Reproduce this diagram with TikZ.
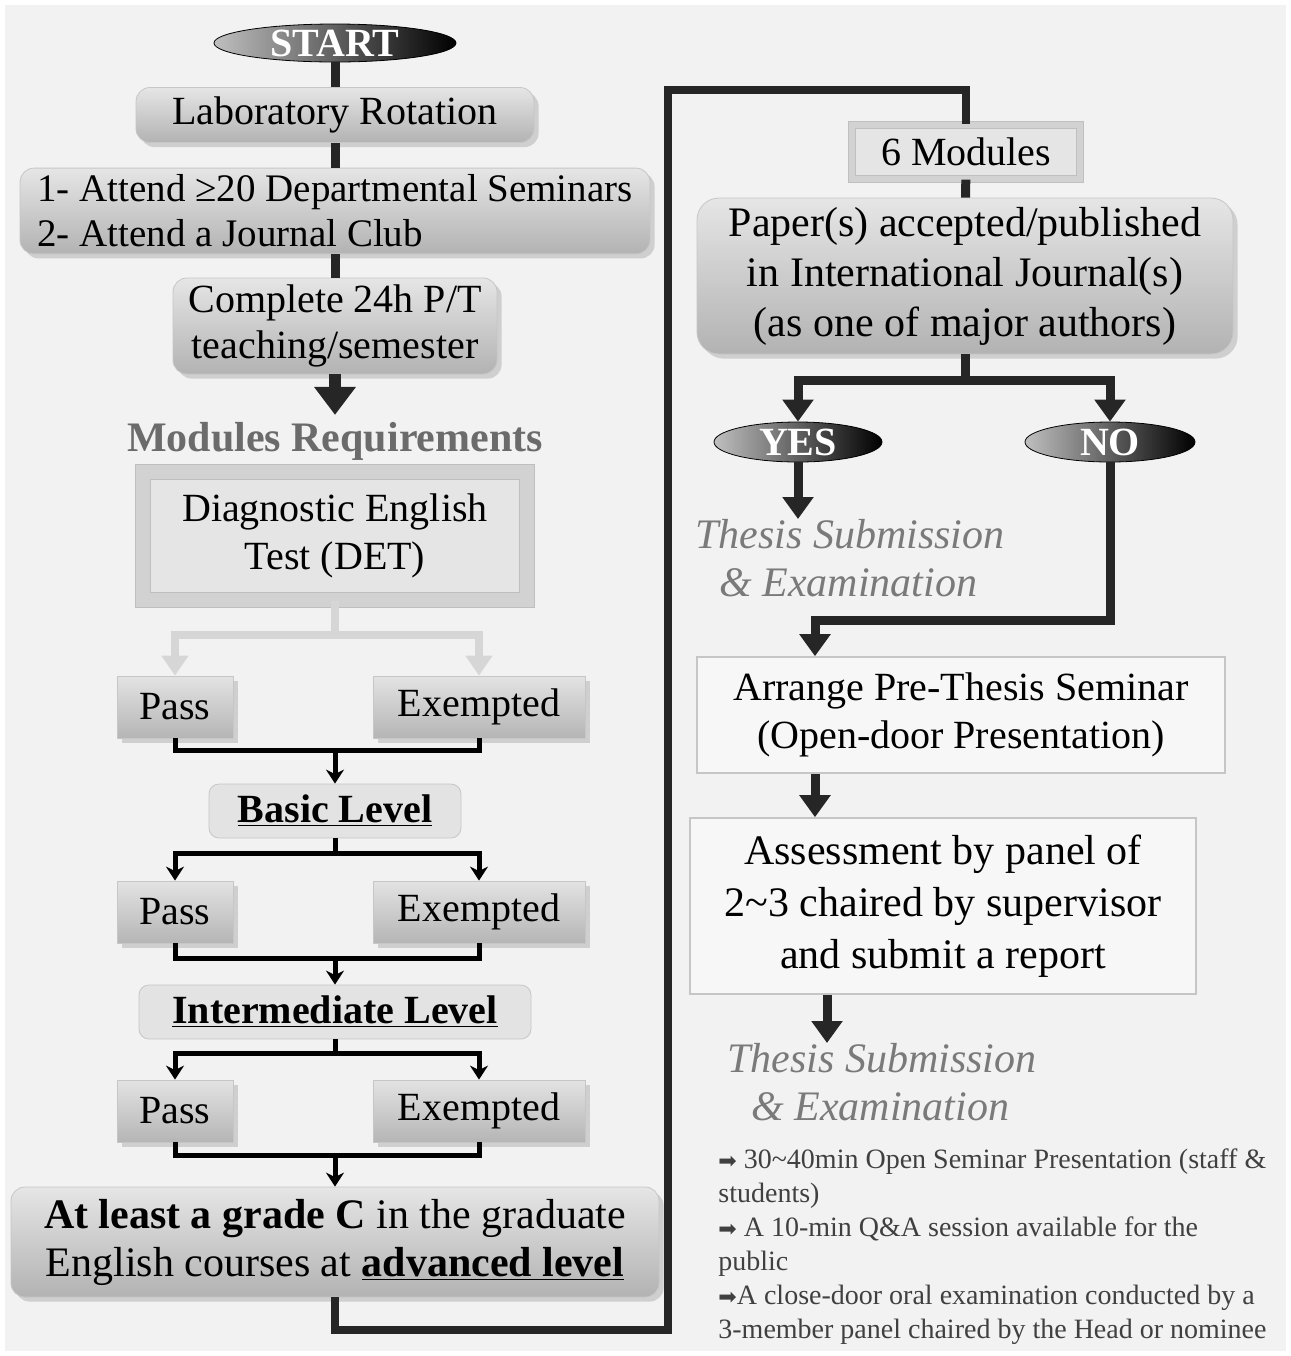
\documentclass[tikz,border=0pt]{standalone}
\usepackage{fontspec}
\setmainfont{Liberation Serif}
\newfontfamily\symfont{DejaVu Sans}
\usetikzlibrary{shapes.geometric, arrows.meta}
\usetikzlibrary{positioning}
\usetikzlibrary{shadows}

\newcommand{\bul}{{\symfont\fontsize{11}{17}\selectfont ➡}}

\tikzset{
  every node/.append style={font=\fontsize{20}{24}\selectfont},
  terminal/.style={ellipse, left color=gray!50, right color=black, draw=black,
    text=white, inner sep=0pt, font=\fontsize{20}{24}\selectfont\bfseries},
  roundbox/.style={rectangle, rounded corners=7pt, top color=gray!20, bottom color=gray!60,
    draw=gray!45, drop shadow={opacity=0.3}, align=center},
  choicebox/.style={rectangle, top color=gray!22, bottom color=gray!58,
    draw=gray!45, drop shadow={opacity=0.3}, minimum height=31pt},
  levelbox/.style={rectangle, rounded corners=5pt, fill=gray!22, draw=gray!45,
    font=\fontsize{20}{24}\selectfont\bfseries, minimum height=27pt},
  bevelbox/.style={rectangle, fill=gray!20, draw=gray!50, line width=0.6pt,
    double=gray!35, align=center},
  plainbox/.style={rectangle, fill=gray!6, draw=gray!45, line width=0.8pt, align=center},
  thesis/.style={inner sep=0pt, align=left, text=black!52,
    font=\fontsize{21}{24}\selectfont\itshape},
  trunk/.style={draw=gray!30!black, line width=4.5pt},
  trunkarr/.style={trunk, -{Triangle[width=15pt,length=11pt]}},
  bigarr/.style={draw=gray!30!black, line width=6pt, -{Triangle[width=20pt,length=14pt]}},
  lightline/.style={draw=gray!32, line width=4pt},
  lightarr/.style={lightline, -{Triangle[width=13pt,length=10pt]}},
  blackline/.style={draw=black, line width=2.5pt},
  blackarr/.style={blackline, -{Stealth[width=9pt,length=7pt]}}
}

\begin{document}
\begin{tikzpicture}[x=0.5pt, y=-0.5pt]

\useasboundingbox (0,0) rectangle (1291,1356);
\fill[white] (0,0) rectangle (1291,1356);
\fill[gray!10] (5,5) rectangle (1286,1351);

% Left column
\node [terminal, minimum width=121pt, minimum height=17pt] (start) at (335,43) {START};
\node [roundbox, minimum width=199pt, minimum height=27.5pt] (lab) at (335,115) {Laboratory Rotation};
\node [roundbox, minimum width=315pt, minimum height=41pt, align=left,
  font=\fontsize{19.5}{22.5}\selectfont] (sem) at (335,211)
  {1- Attend ≥20 Departmental Seminars\\2- Attend a Journal Club\hfill\hbox{}};
\node [roundbox, minimum width=162pt, minimum height=48pt,
  font=\fontsize{20}{23}\selectfont] (comp) at (335,326) {Complete 24h P/T\\teaching/semester};
\node [text=black!58, font=\fontsize{21}{24}\selectfont\bfseries] (modreq) at (335,441) {Modules Requirements};
\node [bevelbox, double distance=7pt, minimum width=192pt, minimum height=64pt] (det) at (335,536)
  {Diagnostic English\\Test (DET)};

% Pass / Exempted rows
\foreach \r/\y in {1/707,2/912,3/1111} {
  \node [choicebox, minimum width=58pt] (pass-\r) at (175,\y) {Pass};
  \node [choicebox, minimum width=106pt] (exe-\r) at (479,\y) {Exempted};
}

\node [levelbox, minimum width=126pt] (basic) at (335,811) {\underline{Basic Level}};
\node [levelbox, minimum width=196pt] (inter) at (335,1012) {\underline{Intermediate Level}};
\node [roundbox, minimum width=324pt, minimum height=55pt, font=\fontsize{21}{24}\selectfont] (grade) at (335,1242)
  {\textbf{At least a grade C} in the graduate\\English courses at \textbf{\underline{advanced level}}};

% Right column
\node [bevelbox, double distance=3pt, minimum width=114pt, minimum height=27pt] (six) at (966,152) {6 Modules};
\node [roundbox, rounded corners=11pt, minimum width=268pt, minimum height=78pt,
  font=\fontsize{21}{25}\selectfont] (paper) at (965,276)
  {Paper(s) accepted/published\\in International Journal(s)\\(as one of major authors)};
\node [terminal, minimum width=84pt, minimum height=20pt] (yes) at (798,442) {YES};
\node [terminal, minimum width=85pt, minimum height=20pt] (no) at (1110,442) {NO};
\node [thesis, anchor=north west] (thesisA) at (695,519) {Thesis Submission\\\hspace*{12pt}\& Examination};
\node [plainbox, minimum width=264pt, minimum height=58pt] (arrange) at (961,715)
  {Arrange Pre-Thesis Seminar\\(Open-door Presentation)};
\node [plainbox, minimum width=253pt, minimum height=88pt, font=\fontsize{21}{26}\selectfont] (assess) at (943,906)
  {Assessment by panel of\\2\textasciitilde3 chaired by supervisor\\and submit a report};
\node [thesis, anchor=north west] (thesisB) at (727,1043) {Thesis Submission\\\hspace*{12pt}\& Examination};
\node [anchor=north west, inner sep=0pt, align=left, text=black!75,
  font=\fontsize{14}{17}\selectfont] (notes) at (718,1148)
  {\bul\ 30\textasciitilde40min Open Seminar Presentation (staff \&\\students)\\
   \bul\ A 10-min Q\&A session available for the\\public\\
   \bul A close-door oral examination conducted by a\\3-member panel chaired by the Head or nominee};

% Left column connections
\draw [trunk] (start) -- (lab);
\draw [trunk] (lab) -- (sem);
\draw [trunk] (sem) -- (comp);
\draw [bigarr] (comp) -- (modreq);

\coordinate (detj) at (335,635);
\draw [lightline] (det) -- (detj);
\draw [lightarr] (detj) -| (pass-1);
\draw [lightarr] (detj) -| (exe-1);

% Pass/Exempted join into next level
\foreach \r/\j/\next in {1/750/basic, 2/958/inter, 3/1155/grade} {
  \coordinate (join-\r) at (335,\j);
  \draw [blackline] (pass-\r) |- (join-\r) -| (exe-\r);
  \draw [blackarr] (join-\r) -- (\next);
}

% Level splits
\foreach \lvl/\j/\r in {basic/853/2, inter/1053/3} {
  \coordinate (split-\r) at (335,\j);
  \draw [blackline] (\lvl) -- (split-\r);
  \draw [blackarr] (split-\r) -| (pass-\r);
  \draw [blackarr] (split-\r) -| (exe-\r);
}

% Route to right column
\coordinate (route-1) at (668,1330);
\coordinate (route-2) at (668,90);
\draw [trunk, line width=4pt] (grade) |- (route-1) -- (route-2) -| (six);
\draw [trunk] (six) -- (paper);

\coordinate (fork) at (965,380);
\draw [trunk] (paper) -- (fork);
\draw [trunkarr] (fork) -| (yes);
\draw [trunkarr] (fork) -| (no);
\draw [trunkarr] (yes) -- (yes |- thesisA.north);

\coordinate (merge) at (815,620);
\draw [trunkarr] (no) |- (merge) -- (merge |- arrange.north);
\draw [trunkarr] (arrange.south -| merge) -- (assess.north -| merge);
\draw [trunkarr] ([xshift=-58pt]assess.south) -- ([xshift=-58pt]assess.south |- thesisB.north);

\end{tikzpicture}
\end{document}
